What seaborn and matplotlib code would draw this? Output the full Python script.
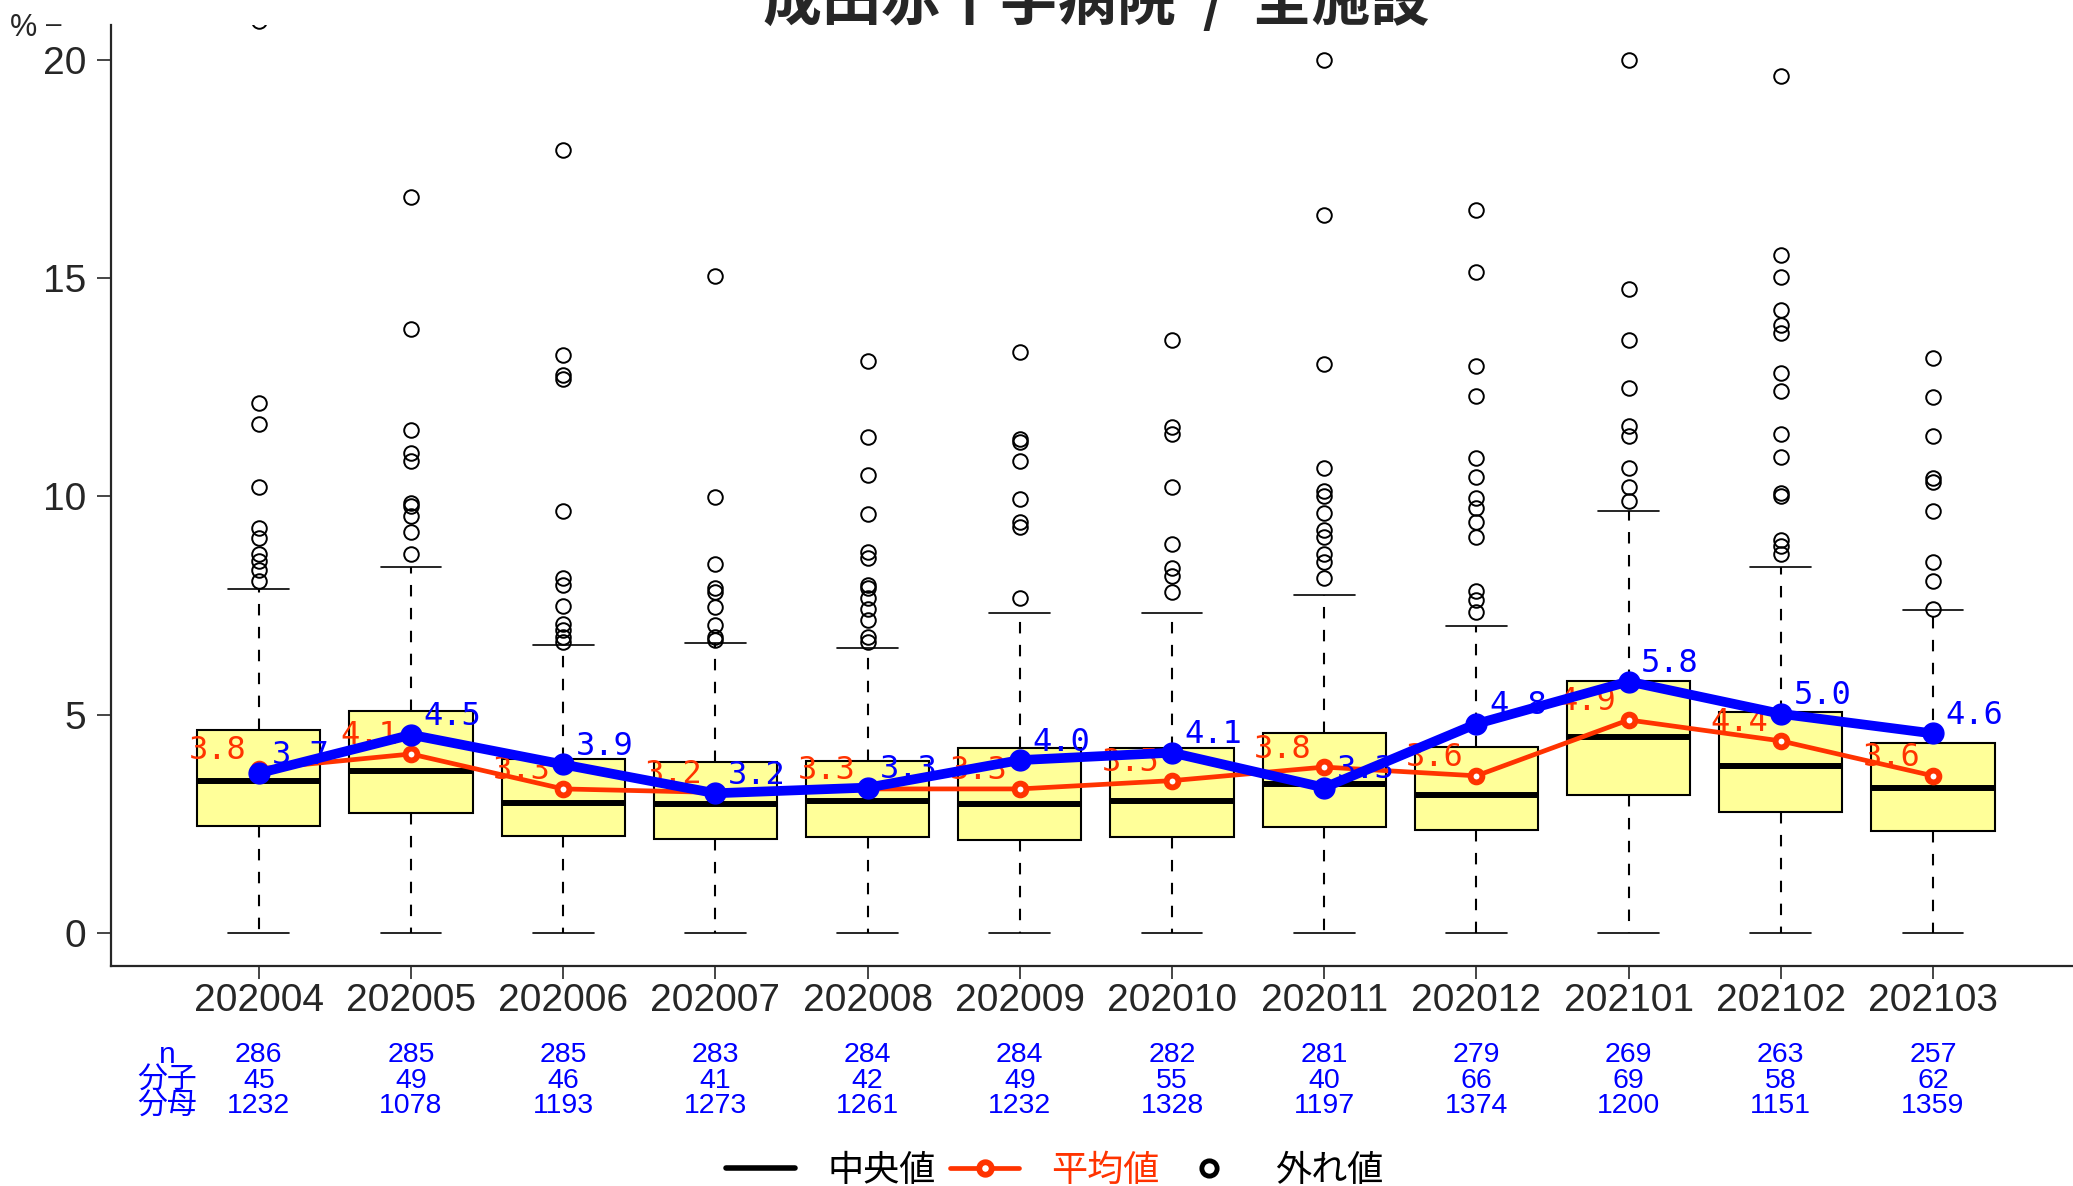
import numpy as np
import pandas as pd
import seaborn as sns
import matplotlib.pyplot as plt
import matplotlib.transforms as mtransforms
from matplotlib.lines import Line2D

months = ["202004", "202005", "202006", "202007", "202008", "202009",
          "202010", "202011", "202012", "202101", "202102", "202103"]

# box statistics (%)
q1 = [2.45, 2.75, 2.23, 2.15, 2.20, 2.12, 2.20, 2.43, 2.35, 3.16, 2.78, 2.34]
median = [3.48, 3.71, 2.98, 2.96, 3.03, 2.96, 3.03, 3.41, 3.16, 4.50, 3.82, 3.33]
q3 = [4.65, 5.09, 3.99, 3.91, 3.93, 4.24, 4.24, 4.59, 4.26, 5.78, 5.06, 4.35]
whisker_hi = [7.87, 8.38, 6.60, 6.64, 6.53, 7.32, 7.32, 7.75, 7.04, 9.67, 8.39, 7.40]
whisker_lo = [0, 0, 0, 0, 0, 0, 0, 0, 0, 0, 0, 0]
fliers = [
    [8.07, 8.32, 8.53, 8.69, 9.05, 9.28, 10.21, 11.66, 12.13, 20.9],
    [8.68, 9.19, 9.55, 9.79, 9.86, 10.8, 11.0, 11.51, 13.84, 16.86],
    [6.67, 6.78, 6.93, 7.08, 7.48, 7.98, 8.14, 9.66, 12.7, 12.79, 13.25, 17.94],
    [6.7, 6.78, 7.06, 7.47, 7.81, 7.91, 8.45, 9.98, 15.05],
    [6.67, 6.77, 7.18, 7.43, 7.68, 7.91, 7.98, 8.58, 8.73, 9.6, 10.5, 11.36, 13.11],
    [7.68, 9.31, 9.41, 9.93, 10.8, 11.24, 11.32, 13.3],
    [7.81, 8.17, 8.35, 8.9, 10.22, 11.42, 11.6, 13.58],
    [8.12, 8.49, 8.67, 9.08, 9.24, 9.63, 10.0, 10.12, 10.65, 13.04, 16.44, 19.99],
    [7.36, 7.62, 7.84, 9.08, 9.41, 9.74, 9.97, 10.45, 10.89, 12.31, 12.98, 15.13, 16.55],
    [9.9, 10.21, 10.66, 11.39, 11.61, 12.49, 13.59, 14.75, 19.99],
    [8.68, 8.87, 9.0, 10.0, 10.07, 10.91, 11.42, 12.41, 12.83, 13.75, 13.92,
     14.26, 15.02, 15.54, 19.63],
    [7.43, 8.07, 8.5, 9.67, 10.34, 10.43, 11.38, 12.27, 13.18],
]
mean_all = [3.76, 4.10, 3.30, 3.22, 3.30, 3.30, 3.49, 3.80, 3.60, 4.88, 4.40, 3.60]
hospital = [3.66, 4.54, 3.86, 3.20, 3.33, 3.96, 4.13, 3.33, 4.79, 5.76, 5.02, 4.57]

n_count = [286, 285, 285, 283, 284, 284, 282, 281, 279, 269, 263, 257]
numer = [45, 49, 46, 41, 42, 49, 55, 40, 66, 69, 58, 62]
denom = [1232, 1078, 1193, 1273, 1261, 1232, 1328, 1197, 1374, 1200, 1151, 1359]

RED = "#FF3300"
BLUE = "#0000FF"
BOX = "#FFFF99"

sns.set_style("ticks")
plt.rcParams['font.family'] = ['Liberation Sans', 'Noto Sans CJK JP', 'DejaVu Sans']

fig = plt.figure(figsize=(20.73, 11.86), dpi=100)
ax = fig.add_axes([0.0535, 0.1855, 0.9465, 0.7935])

pos = np.arange(len(months))
stats = [
    dict(q1=q1[i], med=median[i], q3=q3[i], whislo=whisker_lo[i],
         whishi=whisker_hi[i], fliers=fliers[i], label=months[i])
    for i in range(len(months))
]
ax.bxp(stats, positions=pos, widths=0.81, capwidths=0.40, patch_artist=True,
       boxprops=dict(facecolor=BOX, edgecolor="black", linewidth=1.5),
       medianprops=dict(color="black", linewidth=4.3),
       whiskerprops=dict(color="black", linewidth=1.5, linestyle=(0, (5.5, 5.5))),
       capprops=dict(color="black", linewidth=1.2),
       flierprops=dict(marker="o", markerfacecolor="none", markeredgecolor="black",
                       markersize=10.5, markeredgewidth=1.4),
       zorder=2)

df = pd.DataFrame({"pos": pos, "mean": mean_all, "hospital": hospital})

# 全施設の平均値
sns.lineplot(data=df, x="pos", y="mean", ax=ax, color=RED, linewidth=3.4,
             marker="o", markersize=8.5, mfc="white", mec=RED, mew=4.2, zorder=3)
for x, v in zip(pos, mean_all):
    ax.annotate(f"{v:.1f}", (x, v), xytext=(-9, 13), textcoords="offset points",
                ha="right", va="center", color=RED, fontsize=23,
                family="DejaVu Sans Mono", zorder=4)

# 当院の値
sns.lineplot(data=df, x="pos", y="hospital", ax=ax, color=BLUE, linewidth=7,
             marker="o", markersize=15, mfc=BLUE, mec=BLUE, mew=1, zorder=5)
for x, v in zip(pos, hospital):
    ax.annotate(f"{v:.1f}", (x, v), xytext=(9, 13), textcoords="offset points",
                ha="left", va="center", color=BLUE, fontsize=23,
                family="DejaVu Sans Mono", zorder=6)

ax.set_xlim(-0.972, 11.92)
ax.set_ylim(-0.756, 20.8)
ax.set_xticks(pos)
ax.set_xticklabels(months)
ax.set_yticks([0, 5, 10, 15, 20])
ax.set_yticklabels(["0", "5", "10", "15", "20"])
ax.set_xlabel("")
ax.set_ylabel("")
ax.tick_params(axis="x", length=9, width=1.2, pad=3, labelsize=28, direction="out")
ax.tick_params(axis="y", length=10, width=1.2, pad=8, labelsize=28, direction="out")
sns.despine(ax=ax)
for sp in ["left", "bottom"]:
    ax.spines[sp].set_linewidth(1.6)
ax.set_facecolor("white")

# 表 (n / 分子 / 分母)
trans = mtransforms.blended_transform_factory(ax.transData, fig.transFigure)
row_y = [0.1102, 0.0887, 0.0672]
row_names = ["n", "分子", "分母"]
rows = [n_count, numer, denom]
for name, yy, vals in zip(row_names, row_y, rows):
    fig.text(-0.6, yy, name, transform=trans, ha="center", va="center",
             color=BLUE, fontsize=21.5)
    for x, v in zip(pos, vals):
        fig.text(x, yy, str(v), transform=trans, ha="center", va="center",
                 color=BLUE, fontsize=20.5)

fig.text(0.529, 0.983, "成田赤十字病院  /  全施設", ha="center", va="baseline",
         fontsize=42.5, fontweight="bold",
         family=["Noto Sans CJK JP", "DejaVu Sans"])
fig.text(0.005, 0.976, "%", ha="left", va="center", fontsize=22)
fig.text(0.022, 0.979, "–", ha="left", va="center", fontsize=20)

handles = [
    Line2D([], [], color="black", linewidth=4),
    Line2D([], [], color=RED, linewidth=3.4, marker="o", markersize=9,
           mfc="white", mec=RED, mew=4.2),
    Line2D([], [], linestyle="none", marker="o", markersize=11, mfc="none",
           mec="black", mew=3.5),
]
fig.legend(handles, ["中央値", "平均値", "外れ値"], loc="center",
           bbox_to_anchor=(0.509, 0.0125), ncol=3, frameon=False, fontsize=26,
           handlelength=1.9, handletextpad=0.9, columnspacing=0.4, borderpad=0,
           labelcolor=["black", RED, "black"])

fig.savefig("out.png", dpi=100)
